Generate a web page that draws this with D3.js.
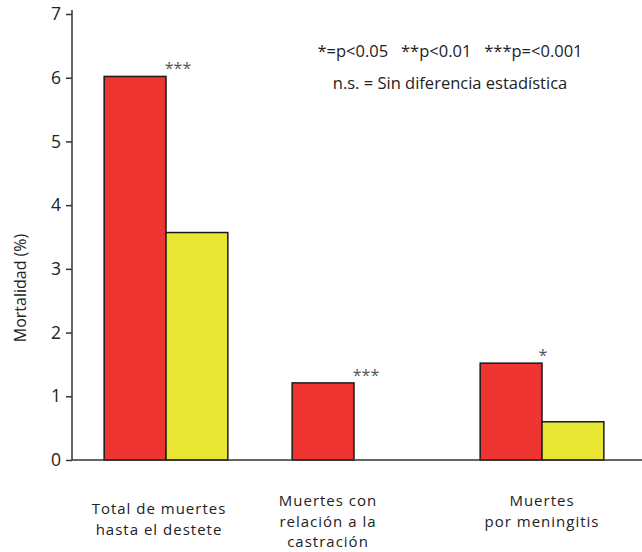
<!DOCTYPE html>
<html>
<head>
<meta charset="utf-8">
<script src="https://cdn.jsdelivr.net/npm/d3@7"></script>
<style>
    body { margin: 0; background: #fff; }
    text { font-family: "Open Sans", sans-serif; fill: #222; }
</style>
</head>
<body>
<div id="barplot"></div>
<script>
// Define variables
// ============================================================================
const categories = [
    ["Total de muertes", "hasta el destete"],
    ["Muertes con", "relación a la", "castración"],
    ["Muertes", "por meningitis"],
];
const seriesA = [6.02, 1.21, 1.52];   // red
const seriesB = [3.57, 0, 0.60];      // yellow
const stars = ["***", "***", "*"];
const yTicks = [0, 1, 2, 3, 4, 5, 6, 7];
const legendLines = [
    "*=p<0.05   **p<0.01   ***p=<0.001",
    "n.s. = Sin diferencia estadística",
];

const W = 642, H = 552,
    margin = {top: 14, right: 6, bottom: 92, left: 72},
    width = W - margin.left - margin.right,
    height = H - margin.top - margin.bottom;

const colors = ["#EE3531", "#E8E633"];

// Plot
// ============================================================================
let svg = d3.select("#barplot")
    .append("svg")
        .attr("width", W)
        .attr("height", H)
    .append("g")
        .attr("transform", "translate(" + margin.left + "," + margin.top + ")");

let idx = categories.map((d, i) => i);

let xScale = d3.scaleBand()
    .range([0, 564])
    .domain(idx);

let xSub = d3.scaleBand()
    .range([0, xScale.bandwidth()])
    .paddingOuter(0.52)
    .domain([0, 1]);

let yScale = d3.scaleLinear()
    .range([height, 0])
    .domain([0, 7]);

// Axes
let yAxis = svg.append("g")
    .call(d3.axisLeft(yScale).tickValues(yTicks).tickSize(6).tickPadding(5).tickFormat(d3.format("d")));
yAxis.select(".domain").attr("d", "M0," + (height) + "V-4").attr("stroke", "#333").attr("stroke-width", 1.5);
yAxis.selectAll(".tick line").attr("stroke", "#333").attr("stroke-width", 1.5);
yAxis.selectAll(".tick text")
    .style("font-family", "'Open Sans', sans-serif")
    .style("font-size", "17.5px")
    .attr("fill", "#333");

// Bars
let bars = [];
idx.forEach(i => {
    bars.push({cat: i, s: 0, v: seriesA[i]});
    if (seriesB[i] > 0) bars.push({cat: i, s: 1, v: seriesB[i]});
});

svg.selectAll("rect.bar")
    .data(bars)
    .enter()
    .append("rect")
        .attr("class", "bar")
        .attr("x", d => xScale(d.cat) + xSub(d.s))
        .attr("y", d => yScale(d.v))
        .attr("width", xSub.bandwidth())
        .attr("height", d => height - yScale(d.v))
        .attr("fill", d => colors[d.s])
        .attr("stroke", "#1a1a1a")
        .attr("stroke-width", 1.5);

// x axis line
svg.append("line")
    .attr("x1", 0)
    .attr("x2", W - margin.left)
    .attr("y1", height)
    .attr("y2", height)
    .attr("stroke", "#333")
    .attr("stroke-width", 1.5);

// Significance stars
const starDx = [12, 12, 1];
svg.selectAll("text.star")
    .data(idx)
    .enter()
    .append("text")
        .attr("class", "star")
        .attr("x", i => xScale(i) + xSub(1) + starDx[i])
        .attr("y", i => yScale(Math.max(seriesA[i], seriesB[i])) - 2)
        .attr("text-anchor", "middle")
        .style("font-size", "16px")
        .style("fill", "#555")
        .text(i => stars[i]);

// Category labels
const labelDx = [-7, -26, 0], labelDy = [54, 46, 46];
idx.forEach(i => {
    let t = svg.append("text")
        .attr("text-anchor", "middle")
        .attr("x", xScale(i) + xScale.bandwidth() / 2 + labelDx[i])
        .attr("y", height + labelDy[i])
        .style("font-size", "15px")
        .style("letter-spacing", "1px");
    categories[i].forEach((line, j) => {
        t.append("tspan")
            .attr("x", xScale(i) + xScale.bandwidth() / 2 + labelDx[i])
            .attr("dy", j == 0 ? 0 : 20.5)
            .text(line);
    });
});

// Legend
legendLines.forEach((d, i) => {
    svg.append("text")
        .attr("x", 450 - margin.left)
        .attr("y", 43 + i * 32)
        .attr("text-anchor", "middle")
        .style("font-size", "16.5px")
        .style("white-space", "pre")
        .attr("xml:space", "preserve")
        .text(d);
});

// Y title
svg.append("text")
    .attr("transform", "rotate(-90)")
    .attr("x", -(288 - margin.top))
    .attr("y", 20 - margin.left + 6)
    .attr("text-anchor", "middle")
    .style("font-size", "16px")
    .text("Mortalidad (%)");
</script>
</body>
</html>
